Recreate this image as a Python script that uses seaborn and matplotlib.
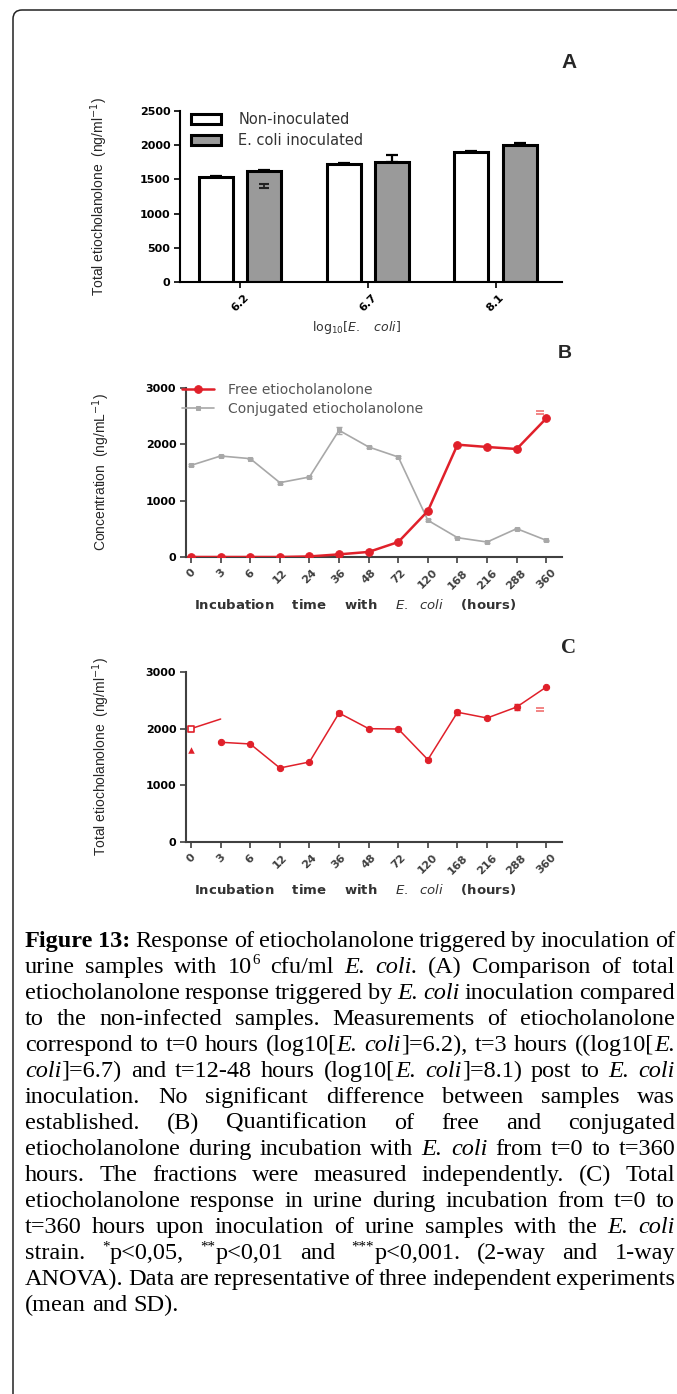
import re
import numpy as np
import pandas as pd
import matplotlib
matplotlib.use("Agg")
import matplotlib.pyplot as plt
import seaborn as sns
from matplotlib.patches import FancyBboxPatch
from matplotlib.transforms import IdentityTransform, offset_copy
from matplotlib.font_manager import FontProperties

# ---------------- data ----------------
a_groups = ["6.2", "6.7", "8.1"]
a_conditions = ["Non-inoculated", "E. coli inoculated"]
a_non_inoc = [1540, 1725, 1900]
a_non_inoc_err = [15, 15, 15]
a_ecoli = [1630, 1760, 2010]
a_ecoli_err = [10, 90, 15]
a_inner_mark = [1410]          # stray error mark drawn inside first grey bar
a_inner_mark_err = [30]

time_labels = ["0", "3", "6", "12", "24", "36", "48", "72", "120", "168", "216", "288", "360"]
b_free = [0, 0, 0, 0, 10, 47, 90, 266, 817, 1994, 1953, 1917, 2462]
b_free_err = [0, 0, 0, 0, 0, 10, 15, 15, 40, 20, 15, 40, 0]
b_conj = [1627, 1793, 1746, 1320, 1420, 2249, 1953, 1775, 651, 343, 266, 503, 296]
b_conj_err = [20, 15, 15, 20, 10, 60, 10, 10, 20, 10, 10, 15, 10]
b_series = ["Free etiocholanolone", "Conjugated etiocholanolone"]
b_free_stray_caps = [2530, 2590]

c_times = time_labels[1:]
c_total = [1760, 1730, 1306, 1412, 2276, 2000, 1994, 1453, 2290, 2188, 2382, 2735]
c_total_err = [0, 0, 15, 0, 35, 0, 0, 30, 45, 15, 50, 0]
c_t0_times = ["0", "3"]
c_t0_segment = [2000, 2170]
c_t0_triangle = [1629]
c_stray_caps = [2310, 2360]

caption_lines = [
    "{b:Figure} {b:13:} Response of etiocholanolone triggered by inoculation of",
    "urine samples with 10{s:6} cfu/ml {i:E.} {i:coli.} (A) Comparison of total",
    "etiocholanolone response triggered by {i:E.} {i:coli} inoculation compared",
    "to the non-infected samples. Measurements of etiocholanolone",
    "correspond to t=0 hours (log10[{i:E.} {i:coli}]=6.2), t=3 hours ((log10[{i:E.}",
    "{i:coli}]=6.7) and t=12-48 hours (log10[{i:E.} {i:coli}]=8.1) post to {i:E.} {i:coli}",
    "inoculation. No significant difference between samples was",
    "established. (B) Quantification of free and conjugated",
    "etiocholanolone during incubation with {i:E.} {i:coli} from t=0 to t=360",
    "hours. The fractions were measured independently. (C) Total",
    "etiocholanolone response in urine during incubation from t=0 to",
    "t=360 hours upon inoculation of urine samples with the {i:E.} {i:coli}",
    "strain. {s:*}p<0,05, {s:**}p<0,01 and {s:***}p<0,001. (2-way and 1-way",
    "ANOVA). Data are representative of three independent experiments",
    "(mean and SD).",
]

# ---------------- style ----------------
sns.set_style("ticks")
plt.rcParams["font.family"] = ["DejaVu Sans"]
plt.rcParams["axes.linewidth"] = 1.2

W, H = 677, 1394
fig = plt.figure(figsize=(W / 100, H / 100), dpi=100)

RED = "#e0202a"
GREY_LINE = "#a8a8a8"
TXT = "#333333"


def ax_rect(left, right, top, bottom):
    return [left / W, 1 - bottom / H, (right - left) / W, (bottom - top) / H]


def style_axes(ax, spine_color):
    sns.despine(ax=ax)
    for s in ("left", "bottom"):
        ax.spines[s].set_color(spine_color)
        ax.spines[s].set_linewidth(1.5)
    ax.tick_params(axis="both", colors=spine_color, width=1.2, length=4)
    ax.tick_params(axis="y", labelsize=8, labelcolor="black", pad=3)
    for lab in ax.get_yticklabels():
        lab.set_fontweight("bold")


# ---------------- panel A ----------------
axA = fig.add_axes(ax_rect(180, 562, 111, 282))
df_a = pd.DataFrame({
    "group": a_groups * 2,
    "condition": [a_conditions[0]] * len(a_groups) + [a_conditions[1]] * len(a_groups),
    "value": a_non_inoc + a_ecoli,
})
sns.barplot(data=df_a, x="group", y="value", hue="condition", order=a_groups,
            hue_order=a_conditions, palette=["white", "#9a9a9a"], edgecolor="black",
            linewidth=2.2, width=0.76, gap=0.3, errorbar=None, ax=axA)
for cont, vals, errs in zip(axA.containers, [a_non_inoc, a_ecoli], [a_non_inoc_err, a_ecoli_err]):
    xs = [b.get_x() + b.get_width() / 2 for b in cont]
    axA.errorbar(xs, vals, yerr=[np.zeros(len(errs)), errs], fmt="none", ecolor="black",
                 elinewidth=1.6, capsize=4.5, capthick=1.6, zorder=5)
first_grey = axA.containers[1][0]
axA.errorbar([first_grey.get_x() + first_grey.get_width() / 2], a_inner_mark, yerr=a_inner_mark_err,
             fmt="none", ecolor="#222222", elinewidth=1.3, capsize=3.5, capthick=1.5, zorder=5)
axA.set_ylim(0, 2500)
axA.set_yticks([0, 500, 1000, 1500, 2000, 2500])
axA.set_xlim(-0.47, 2.52)
style_axes(axA, "black")
axA.set_xticks(range(len(a_groups)))
axA.set_xticklabels(a_groups, rotation=45, fontsize=8, fontweight="bold")
axA.set_ylabel("Total etiocholanolone  (ng/ml$^{-1}$)", family="Liberation Sans", fontsize=10)
axA.yaxis.set_label_coords(-0.183, 0.5)
axA.set_xlabel(r"log$_{10}$[$\mathit{E.}$   $\mathit{coli}$]", fontsize=9, color=TXT)
axA.xaxis.set_label_coords(0.463, -0.215)
handles, labels = axA.get_legend_handles_labels()
axA.legend(handles, labels, loc="upper left", bbox_to_anchor=(0.03, 0.995), frameon=False,
           fontsize=10.5, handlelength=2.0, handleheight=0.7, handletextpad=1.2,
           labelspacing=0.45, borderaxespad=0, borderpad=0, labelcolor=TXT)
fig.text(569 / W, 1 - 62 / H, "A", ha="center", va="center", fontsize=15,
         fontweight="bold", family="Liberation Sans")

# ---------------- panel B ----------------
pos = np.arange(len(time_labels))
axB = fig.add_axes(ax_rect(186, 562, 388, 557))
sns.lineplot(x=pos, y=b_free, color=RED, linewidth=1.8, marker="o", markersize=5.5,
             markeredgecolor=RED, label=b_series[0], ax=axB, zorder=4)
sns.lineplot(x=pos, y=b_conj, color=GREY_LINE, linewidth=1.2, marker="s", markersize=3.5,
             markeredgecolor=GREY_LINE, label=b_series[1], ax=axB, zorder=3)
axB.errorbar(pos, b_free, yerr=b_free_err, fmt="none", ecolor=RED, elinewidth=1, capsize=2.5, zorder=4)
axB.errorbar(pos, b_conj, yerr=b_conj_err, fmt="none", ecolor=GREY_LINE, elinewidth=1, capsize=2.5, zorder=3)
stray_tr = offset_copy(axB.transData, fig=fig, x=-6, y=0, units="dots")
sns.scatterplot(x=[pos[-1]] * len(b_free_stray_caps), y=b_free_stray_caps, marker="_", s=30,
                color="#f07070", linewidth=1.2, ax=axB, transform=stray_tr, legend=False)
axB.set_ylim(0, 3000)
axB.set_yticks([0, 1000, 2000, 3000])
axB.set_xlim(-0.17, 12.53)
style_axes(axB, "#404040")
axB.set_xticks(pos)
axB.set_xticklabels(time_labels, rotation=45, fontsize=8, fontweight="bold")
axB.set_ylabel("Concentration  (ng/mL$^{-1}$)", family="Liberation Sans", fontsize=10)
axB.yaxis.set_label_coords(-0.197, 0.5)
xl = r"Incubation    time    with    $\mathit{E.}$  $\mathit{coli}$    (hours)"
axB.set_xlabel(xl, fontsize=9.5, fontweight="bold", color=TXT)
axB.xaxis.set_label_coords(0.449, -0.235)
axB.legend(loc="upper left", bbox_to_anchor=(-0.01, 1.03), frameon=False, fontsize=10,
           handlelength=2.3, handletextpad=1.0, labelspacing=0.35, borderaxespad=0,
           borderpad=0, labelcolor="#555555")
fig.text(565 / W, 1 - 353 / H, "B", ha="center", va="center", fontsize=14,
         fontweight="bold", family="Liberation Sans")

# ---------------- panel C ----------------
axC = fig.add_axes(ax_rect(186, 562, 672, 842))
c_pos = np.array([time_labels.index(t) for t in c_times])
t0_pos = np.array([time_labels.index(t) for t in c_t0_times])
sns.lineplot(x=c_pos, y=c_total, color=RED, linewidth=1.1, marker="o", markersize=4.5,
             markeredgecolor=RED, ax=axC, zorder=4)
axC.errorbar(c_pos, c_total, yerr=c_total_err, fmt="none", ecolor=RED, elinewidth=1, capsize=2.5, zorder=4)
sns.lineplot(x=t0_pos, y=c_t0_segment, color=RED, linewidth=1.1, ax=axC, zorder=4)
sns.scatterplot(x=t0_pos[:1], y=c_t0_segment[:1], marker="s", s=22, facecolor="white",
                edgecolor=RED, linewidth=1.2, ax=axC, zorder=5)
sns.scatterplot(x=t0_pos[:1], y=c_t0_triangle, marker="^", s=22, color=RED, linewidth=0,
                ax=axC, zorder=5)
stray_tr_c = offset_copy(axC.transData, fig=fig, x=-6, y=0, units="dots")
sns.scatterplot(x=[c_pos[-1]] * len(c_stray_caps), y=c_stray_caps, marker="_", s=30,
                color="#f07070", linewidth=1.2, ax=axC, transform=stray_tr_c, legend=False)
axC.set_ylim(0, 3000)
axC.set_yticks([0, 1000, 2000, 3000])
axC.set_xlim(-0.17, 12.53)
style_axes(axC, "#404040")
axC.set_xticks(pos)
axC.set_xticklabels(time_labels, rotation=45, fontsize=8, fontweight="bold")
axC.set_ylabel("Total etiocholanolone  (ng/ml$^{-1}$)", family="Liberation Sans", fontsize=10)
axC.yaxis.set_label_coords(-0.197, 0.5)
axC.set_xlabel(xl, fontsize=9.5, fontweight="bold", color=TXT)
axC.xaxis.set_label_coords(0.449, -0.235)
fig.text(568 / W, 1 - 648 / H, "C", ha="center", va="center", fontsize=15,
         fontweight="bold", family="Liberation Serif")

# ---------------- border ----------------
border = FancyBboxPatch((13, -40), 760, H - 10 + 40, boxstyle="round,pad=0,rounding_size=9",
                        transform=IdentityTransform(), fill=False, lw=1.1, ec="#222222")
fig.add_artist(border)

# ---------------- caption (justified) ----------------
CAP_SIZE = 17.5
CAP_FAMILY = "Liberation Serif"


def fprops(style):
    if style == "b":
        return FontProperties(family=CAP_FAMILY, weight="bold", size=CAP_SIZE)
    if style == "i":
        return FontProperties(family=CAP_FAMILY, style="italic", size=CAP_SIZE)
    if style == "s":
        return FontProperties(family=CAP_FAMILY, size=CAP_SIZE * 0.62)
    return FontProperties(family=CAP_FAMILY, size=CAP_SIZE)


renderer = fig.canvas.get_renderer()


def measure(text, style):
    t = fig.text(0, 0, text, fontproperties=fprops(style))
    w = t.get_window_extent(renderer).width
    t.remove()
    return w


def parse_word(word):
    runs = []
    for m in re.finditer(r"\{(\w):([^}]*)\}|([^{]+)", word):
        if m.group(3):
            runs.append((m.group(3), "r"))
        else:
            runs.append((m.group(2), m.group(1)))
    return runs


space_w = measure("a a", "r") - measure("aa", "r")
LEFT, RIGHT = 25, 675
BASE0, STEP = 947, 26.0
px_per_pt = 100 / 72
for i, line in enumerate(caption_lines):
    words = [parse_word(w) for w in line.split(" ")]
    widths = [[measure(t, s) for t, s in wd] for wd in words]
    total = sum(sum(w) for w in widths)
    last = i == len(caption_lines) - 1
    size_scale = 1.0
    if last or len(words) < 2:
        gap = space_w
    else:
        gap = (RIGHT - LEFT - total) / (len(words) - 1)
        if gap < space_w * 0.5:
            # shrink slightly so the line still fits inside the figure
            size_scale = (RIGHT - LEFT - space_w * 0.5 * (len(words) - 1)) / total
            widths = [[w * size_scale for w in ws] for ws in widths]
            gap = space_w * 0.5
    x = LEFT
    base = BASE0 + i * STEP
    for wd, ws in zip(words, widths):
        for (t, s), w in zip(wd, ws):
            fp = fprops(s)
            fp.set_size(fp.get_size() * size_scale)
            y = base - (0.36 * CAP_SIZE * px_per_pt if s == "s" else 0)
            fig.text(x / W, 1 - y / H, t, fontproperties=fp, va="baseline", ha="left",
                     color="black")
            x += w
        x += gap

fig.savefig("out.png", dpi=100)
